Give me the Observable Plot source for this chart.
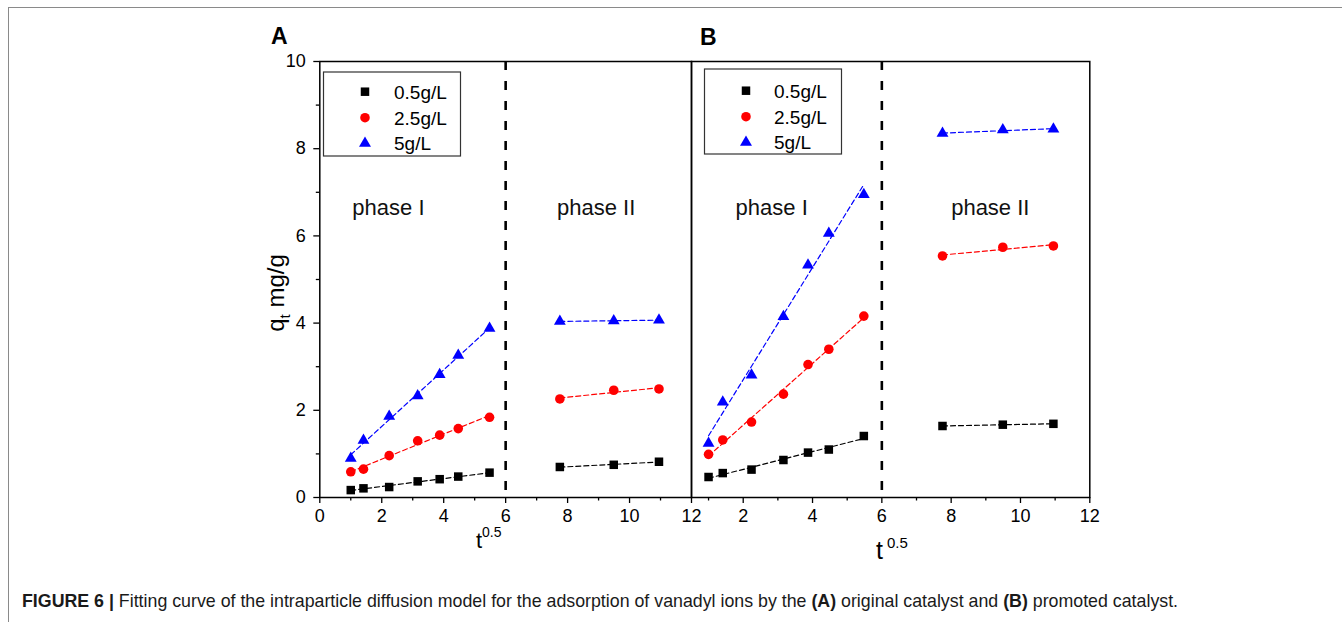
<!DOCTYPE html>
<html><head><meta charset="utf-8">
<script src="https://cdn.jsdelivr.net/npm/d3@7"></script>
<script src="https://cdn.jsdelivr.net/npm/@observablehq/plot@0.6"></script>
<style>
body{margin:0;background:#fff;}
#wrap{position:relative;width:1342px;height:622px;overflow:hidden;font-family:"Liberation Sans",Arial,sans-serif;}
#frame{position:absolute;left:8px;top:7px;width:1340px;height:620px;border-top:1.5px solid #8a8a8a;border-left:1.5px solid #8a8a8a;}
.panel{position:absolute;left:0;top:0;}
#caption{position:absolute;left:22px;top:591px;font-size:17.8px;line-height:20px;color:#1a1a1a;white-space:nowrap;}
</style></head><body>
<div id="wrap"><div id="frame"></div><div id="pa" class="panel"></div><div id="pb" class="panel"></div>
<div id="caption"><b>FIGURE 6 |</b> Fitting curve of the intraparticle diffusion model for the adsorption of vanadyl ions by the <b>(A)</b> original catalyst and <b>(B)</b> promoted catalyst.</div></div>
<script>
// ---- data ----
const sqrtT = [1, 1.41, 2.24, 3.16, 3.87, 4.47, 5.48, 7.75, 9.49, 10.95];
const phase = ["I","I","I","I","I","I","I","II","II","II"];
const seriesNames = ["0.5g/L", "2.5g/L", "5g/L"];
const seriesColors = ["#000000", "#ff0000", "#0000ff"];
const seriesSymbols = ["square", "circle", "triangle"];

const aBlack = [0.17, 0.21, 0.24, 0.37, 0.42, 0.48, 0.57, 0.70, 0.75, 0.82];
const aRed   = [0.59, 0.65, 0.96, 1.30, 1.43, 1.58, 1.84, 2.26, 2.46, 2.49];
const aBlue  = [0.90, 1.31, 1.86, 2.33, 2.82, 3.26, 3.88, 4.04, 4.05, 4.07];

const bBlack = [0.47, 0.56, 0.64, 0.86, 1.03, 1.10, 1.41, 1.64, 1.67, 1.69];
const bRed   = [0.99, 1.32, 1.73, 2.37, 3.05, 3.40, 4.16, 5.54, 5.74, 5.77];
const bBlue  = [1.24, 2.19, 2.81, 4.15, 5.33, 6.06, 6.95, 8.35, 8.43, 8.45];

const phaseBoundary = [6];
const phaseLabelsA = [{x: 1.05, y: 6.64, text: "phase I"}, {x: 7.66, y: 6.64, text: "phase II"}];
const phaseLabelsB = [{x: 1.78, y: 6.64, text: "phase I"}, {x: 8.00, y: 6.64, text: "phase II"}];

const xMajorA = [0, 2, 4, 6, 8, 10, 12];
const xMinorA = [1, 3, 5, 7, 9, 11];
const xMajorB = [2, 4, 6, 8, 10, 12];
const xMinorB = [1, 3, 5, 7, 9, 11];
const yMajor = [0, 2, 4, 6, 8, 10];
const yMinor = [1, 3, 5, 7, 9];

function rowsOf(seriesArrays) {
  const rows = [];
  seriesArrays.forEach((vals, k) => {
    vals.forEach((v, i) => rows.push({x: sqrtT[i], y: v, s: seriesNames[k], g: seriesNames[k] + phase[i]}));
  });
  return rows;
}
const rowsA = rowsOf([aBlack, aRed, aBlue]);
const rowsB = rowsOf([bBlack, bRed, bBlue]);

const W = 1342, H = 575, TOP = 61, BOTTOM = 497;
const FONT = "Liberation Sans, Arial, sans-serif";

function panel(rows, o) {
  const dots = seriesNames.map((n, k) =>
    Plot.dot(rows.filter(d => d.s === n), {x: "x", y: "y", symbol: seriesSymbols[k], fill: seriesColors[k],
      r: seriesSymbols[k] === "triangle" ? 4.4 : 4.8}));
  const marks = [
    Plot.ruleX(phaseBoundary, {stroke: "black", strokeWidth: 2.6, strokeDasharray: "9,11"}),
    Plot.linearRegressionY(rows, {x: "x", y: "y", z: "g", stroke: "s", strokeWidth: 1.2, strokeDasharray: "5,3", ci: 0}),
    ...dots,
    Plot.frame({stroke: "black", strokeWidth: 1.5}),
    Plot.axisX({ticks: o.xMajor, tickSize: 6, tickPadding: 6, fontSize: 18, label: null, stroke: "black", strokeWidth: 1.3}),
    Plot.axisX({ticks: o.xMinor, tickSize: 3.5, tickFormat: () => "", label: null, strokeWidth: 1.3}),
    Plot.text(o.labels, {x: "x", y: "y", text: "text", textAnchor: "start", lineAnchor: "middle", fontSize: 22, fill: "#111"})
  ];
  if (o.yaxis) {
    marks.push(Plot.axisY({ticks: yMajor, tickSize: 6, tickPadding: 8, fontSize: 18, label: null, strokeWidth: 1.3}));
    marks.push(Plot.axisY({ticks: yMinor, tickSize: 3.5, tickFormat: () => "", label: null, strokeWidth: 1.3}));
  }
  return Plot.plot({
    width: W, height: H,
    marginLeft: o.left, marginRight: W - o.right, marginTop: TOP, marginBottom: H - BOTTOM,
    x: {domain: o.xdomain},
    y: {domain: [0, 10], axis: o.yaxis ? undefined : null},
    color: {domain: seriesNames, range: seriesColors},
    style: {background: "transparent", fontFamily: FONT, overflow: "visible", color: "black"},
    marks
  });
}

const svgA = panel(rowsA, {left: 319.3, right: 691, xdomain: [0, 12], xMajor: xMajorA, xMinor: xMinorA, labels: phaseLabelsA, yaxis: true});
const svgB = panel(rowsB, {left: 691, right: 1089.3, xdomain: [0.508, 12], xMajor: xMajorB, xMinor: xMinorB, labels: phaseLabelsB, yaxis: false});
document.getElementById("pa").appendChild(svgA);
document.getElementById("pb").appendChild(svgB);

// ---- text annotations and legends ----
function addText(svg, x, y, str, size, weight, anchor) {
  return d3.select(svg).append("text").attr("x", x).attr("y", y).attr("font-size", size)
    .attr("font-weight", weight || "normal").attr("text-anchor", anchor || "start")
    .attr("font-family", FONT).attr("fill", "black").text(str);
}
addText(svgA, 271, 44, "A", 23, "bold");
addText(svgB, 700, 45, "B", 23, "bold");

// x titles
addText(svgA, 476, 548, "t", 22);
addText(svgA, 482, 537, "0.5", 14);
addText(svgB, 876, 559, "t", 25);
addText(svgB, 887, 548, "0.5", 15);

// y title
const yt = d3.select(svgA).append("text").attr("transform", "translate(284,293) rotate(-90)")
  .attr("text-anchor", "middle").attr("font-size", 24).attr("font-family", FONT).attr("fill", "black");
yt.append("tspan").text("q");
yt.append("tspan").attr("dy", 6).attr("font-size", 15).text("t");
yt.append("tspan").attr("dy", -6).text(" mg/g");

// legends
function legend(svg, x0, y0, w, h, symX, txtX, rowsY) {
  const g = d3.select(svg).append("g").attr("text-anchor", "start");
  g.append("rect").attr("x", x0).attr("y", y0).attr("width", w).attr("height", h)
    .attr("fill", "white").attr("stroke", "#333").attr("stroke-width", 1.2);
  const types = [d3.symbolSquare, d3.symbolCircle, d3.symbolTriangle];
  seriesNames.forEach((n, k) => {
    g.append("path").attr("transform", `translate(${symX},${rowsY[k]})`)
      .attr("d", d3.symbol(types[k], k === 2 ? 62 : 72)()).attr("fill", seriesColors[k]);
    g.append("text").attr("x", txtX).attr("y", rowsY[k]).attr("dy", "0.36em").attr("font-size", 19)
      .attr("text-anchor", "start").attr("font-family", FONT).attr("fill", "black").text(n);
  });
}
legend(svgA, 323.5, 72, 137, 84, 365, 394, [91.7, 117.7, 143.3]);
legend(svgB, 704.5, 69, 137, 85, 746, 774, [90.7, 116.7, 142.3]);
</script>
</body></html>
